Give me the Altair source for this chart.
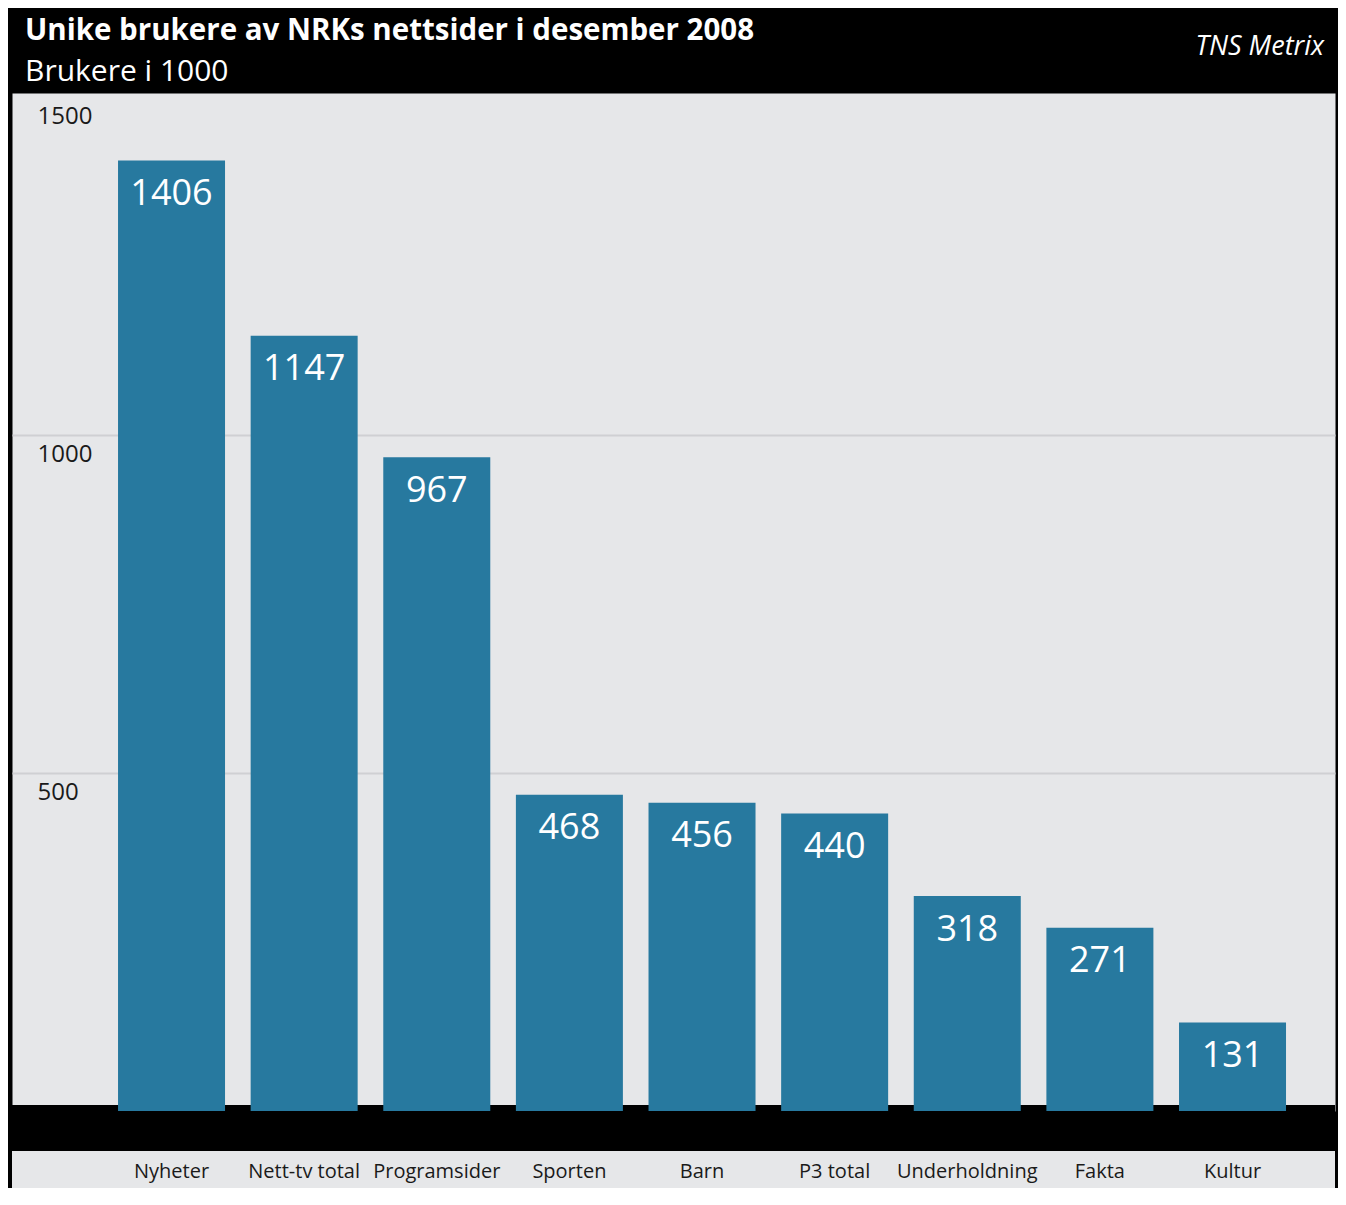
import altair as alt
import pandas as pd

title_text = "Unike brukere av NRKs nettsider i desember 2008"
subtitle_text = "Brukere i 1000"
source_text = "TNS Metrix"

categories = ["Nyheter", "Nett-tv total", "Programsider", "Sporten", "Barn",
              "P3 total", "Underholdning", "Fakta", "Kultur"]
values = [1406, 1147, 967, 468, 456, 440, 318, 271, 131]
y_ticks = [500, 1000, 1500]

df = pd.DataFrame({"kategori": categories, "brukere": values})

W = 1323
H = 1018
FONT = "Open Sans"
BAR = "#27799f"
BG = "#e6e7e9"
GRID = "#cfd0d3"
TXT = "#1a1a1a"

x_enc = alt.X(
    "kategori:N",
    sort=categories,
    scale=alt.Scale(paddingInner=0.1932, paddingOuter=0.5844, align=0.684),
    axis=alt.Axis(title=None, orient="bottom", labelAngle=0, labelPadding=66,
                  labelBaseline="alphabetic", ticks=False, domain=False, grid=False,
                  labelFont=FONT, labelFontSize=20, labelColor=TXT, zindex=2),
)
y_enc = alt.Y(
    "brukere:Q",
    scale=alt.Scale(domain=[0, 1506], nice=False, zero=True),
    axis=alt.Axis(title=None, values=y_ticks, format="d", orient="left", ticks=False,
                  domain=False, grid=True, gridColor=GRID, gridWidth=2,
                  gridOpacity={"condition": {"test": "datum.value >= 1500", "value": 0}, "value": 1},
                  labelAlign="left", labelPadding=-25, labelBaseline="alphabetic",
                  labelOffset=26, labelFont=FONT, labelFontSize=24, labelColor=TXT),
)

one = alt.Data(values=[{}])

band = alt.Chart(one).mark_rect(color="black").encode(
    x=alt.value(0), x2=alt.value(W), y=alt.value(1012), y2=alt.value(1058))
label_area = alt.Chart(one).mark_rect(color=BG).encode(
    x=alt.value(0), x2=alt.value(W), y=alt.value(1058), y2=alt.value(1100))

bars = alt.Chart(df).mark_bar(color=BAR).encode(x=x_enc, y=y_enc)
bar_labels = alt.Chart(df).mark_text(
    color="white", font=FONT, fontSize=36, baseline="alphabetic", dy=44.5, align="center"
).encode(x=alt.X("kategori:N", sort=categories), y=alt.Y("brukere:Q"), text="brukere:Q")

title_mark = alt.Chart(alt.Data(values=[{"t": title_text}])).mark_text(
    align="left", baseline="alphabetic", font=FONT, fontSize=29.5, fontWeight="bold", color="white"
).encode(x=alt.value(13), y=alt.value(-53.5), text="t:N")
subtitle_mark = alt.Chart(alt.Data(values=[{"t": subtitle_text}])).mark_text(
    align="left", baseline="alphabetic", font=FONT, fontSize=30, color="white"
).encode(x=alt.value(13), y=alt.value(-12), text="t:N")
source_mark = alt.Chart(alt.Data(values=[{"t": source_text}])).mark_text(
    align="right", baseline="alphabetic", font=FONT, fontSize=27, fontStyle="italic", color="white"
).encode(x=alt.value(1312), y=alt.value(-38), text="t:N")

chart = alt.layer(
    band, label_area, bars, bar_labels, title_mark, subtitle_mark, source_mark
).properties(
    width=W, height=H,
    background="black",
    autosize=alt.AutoSizeParams(type="none"),
    padding={"left": 4, "top": 85, "right": 3, "bottom": 77},
).configure_view(fill=BG, stroke="transparent")

chart.save("out.html", embed_options={"renderer": "svg", "actions": False})
